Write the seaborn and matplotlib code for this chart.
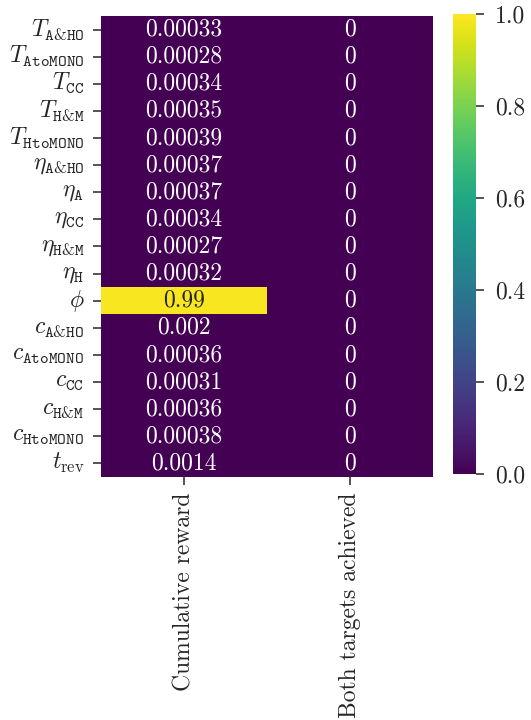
import numpy as np
import pandas as pd
import matplotlib
matplotlib.use("Agg")
import matplotlib.pyplot as plt
import seaborn as sns

sns.set_theme(style="ticks")
plt.rcParams["font.family"] = ["cmr10", "DejaVu Serif"]
plt.rcParams["mathtext.fontset"] = "cm"
plt.rcParams["axes.unicode_minus"] = False
plt.rcParams["axes.formatter.use_mathtext"] = True

params = [
    r"$T_{\tt A&HO}$", r"$T_{\tt AtoMONO}$", r"$T_{\tt CC}$",
    r"$T_{\tt H&M}$", r"$T_{\tt HtoMONO}$", r"$\eta_{\tt A&HO}$",
    r"$\eta_{\tt A}$", r"$\eta_{\tt CC}$", r"$\eta_{\tt H&M}$",
    r"$\eta_{\tt H}$", r"$\phi$", r"$c_{\tt A&HO}$",
    r"$c_{\tt AtoMONO}$", r"$c_{\tt CC}$", r"$c_{\tt H&M}$",
    r"$c_{\tt HtoMONO}$", r"$t_{\mathrm{rev}}$",
]
metrics = ["Cumulative reward", "Both targets achieved"]
cumulative_reward = [0.00033, 0.00028, 0.00034, 0.00035, 0.00039, 0.00037,
                     0.00037, 0.00034, 0.00027, 0.00032, 0.99, 0.002,
                     0.00036, 0.00031, 0.00036, 0.00038, 0.0014]
both_targets = [0] * 17
cbar_ticks = [0.0, 0.2, 0.4, 0.6, 0.8, 1.0]

df = pd.DataFrame({metrics[0]: cumulative_reward, metrics[1]: both_targets},
                  index=params)

FS = 17
fig = plt.figure(figsize=(5.31, 7.2), dpi=100)
ax = fig.add_axes([0.1902, 0.3375, 0.6252, 0.6403])
cax = fig.add_axes([0.8531, 0.3417, 0.0433, 0.6389])

sns.heatmap(df, ax=ax, cbar_ax=cax, cmap="viridis", vmin=0, vmax=1,
            annot=True, fmt=".2g", annot_kws={"fontsize": FS})

ax.tick_params(axis="both", labelsize=FS, length=6, width=1.1)
ax.tick_params(axis="y", pad=6)
ax.tick_params(axis="x", pad=5)
ax.set_yticklabels(params, rotation=0)
ax.set_xticklabels(metrics, rotation=90)
cax.tick_params(labelsize=FS, length=6, width=1.1, pad=8)
cax.set_yticks(cbar_ticks)
cax.set_yticklabels([f"{t:.1f}" for t in cbar_ticks])

fig.savefig("out.png", dpi=100)
